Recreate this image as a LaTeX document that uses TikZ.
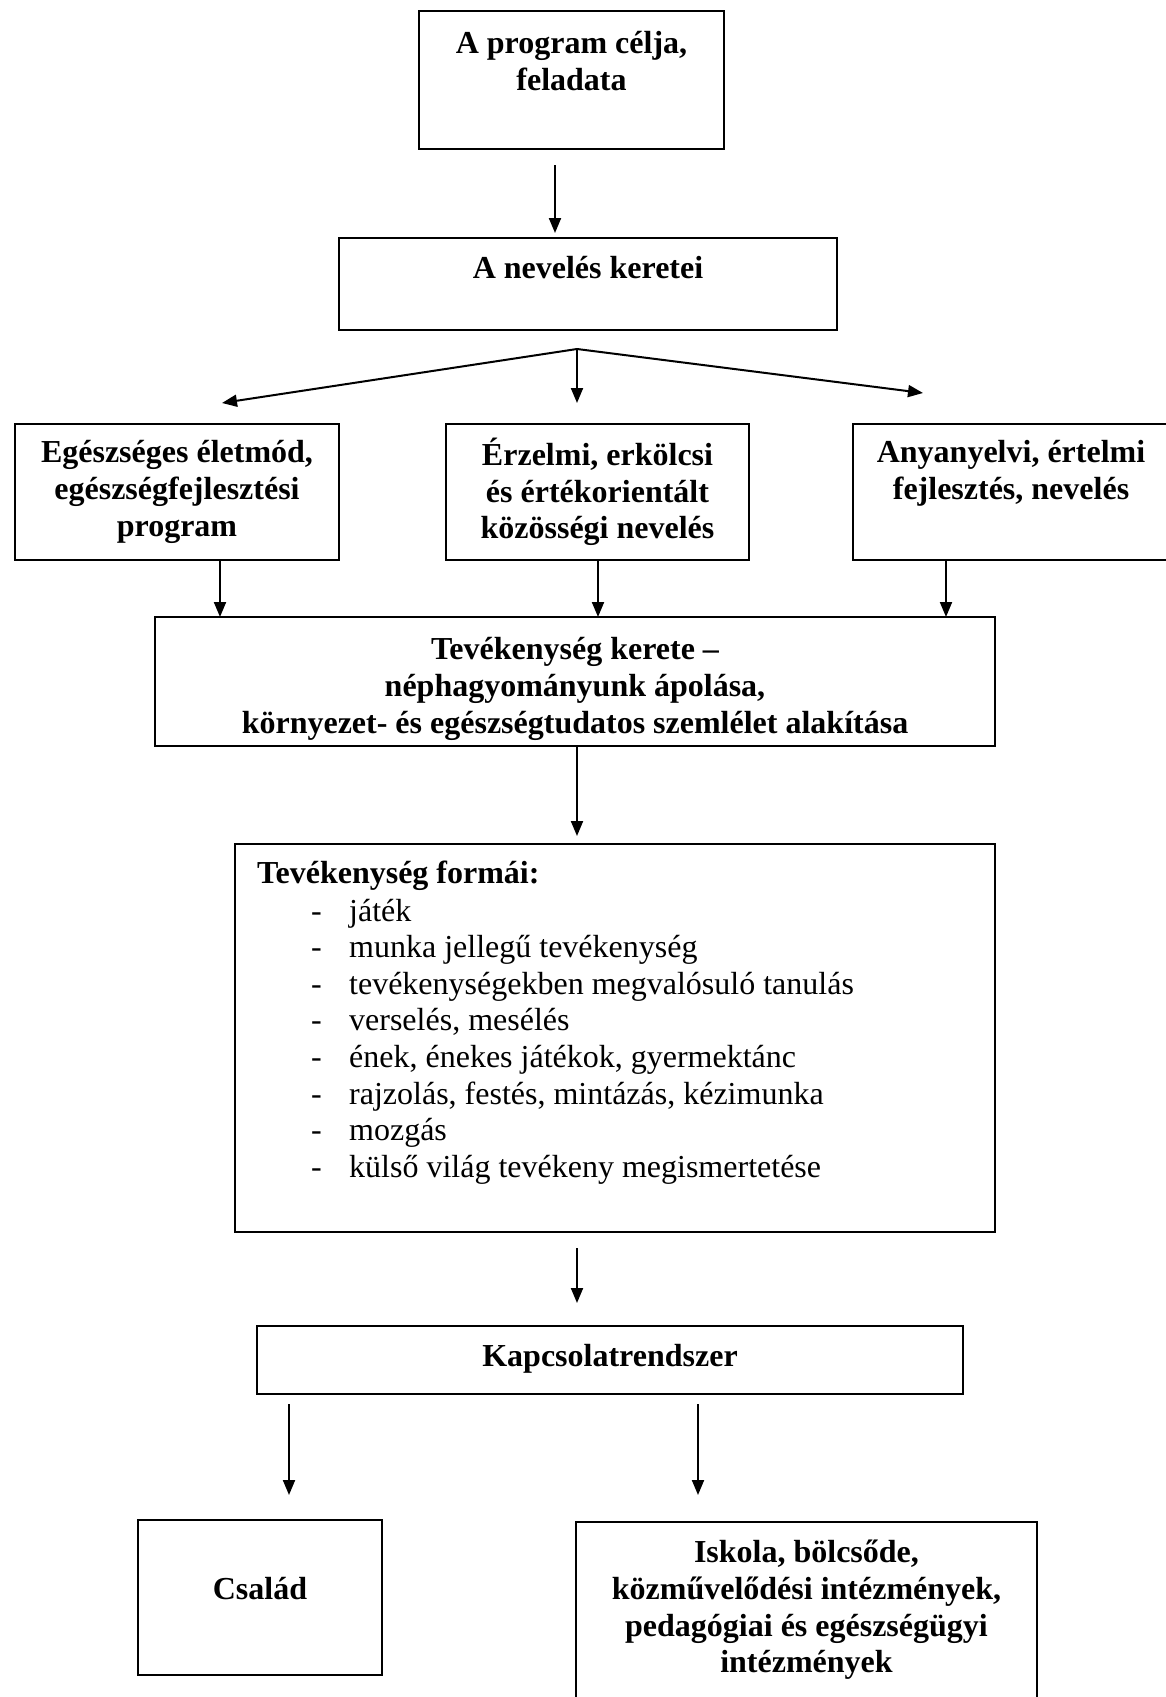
\documentclass[tikz,border=0pt]{standalone}
\usepackage{fontspec}
\setmainfont{Liberation Serif}
\usetikzlibrary{arrows.meta,calc}
\begin{document}
\begin{tikzpicture}[x=1pt,y=-1pt,
  box/.style={draw,line width=2pt,inner sep=0pt,outer sep=0pt},
  lbl/.style={font=\fontsize{32}{36.6}\selectfont\bfseries,align=center,inner sep=0pt},
  arr/.style={line width=2pt,-{Triangle[length=15pt,width=12pt]}}]
\useasboundingbox (0,0) rectangle (1166,1697);
\fill[white] (0,0) rectangle (1166,1697);
% boxes
\node[box,minimum width=305pt,minimum height=138pt] (b1) at (571.5,80) {};
\node[box,minimum width=498pt,minimum height=92pt] (b2) at (588,284) {};
\node[box,minimum width=324pt,minimum height=136pt] (b3) at (177,492) {};
\node[box,minimum width=303pt,minimum height=136pt] (b4) at (597.5,492) {};
\node[box,minimum width=317pt,minimum height=136pt] (b5) at (1011.5,492) {};
\node[box,minimum width=840pt,minimum height=129pt] (b6) at (575,681.5) {};
\node[box,minimum width=760pt,minimum height=388pt] (b7) at (615,1038) {};
\node[box,minimum width=706pt,minimum height=68pt] (b8) at (610,1360) {};
\node[box,minimum width=244pt,minimum height=155pt] (b9) at (260,1597.5) {};
\node[box,minimum width=461pt,minimum height=183pt] (b10) at (806.5,1613.5) {};
% texts
\node[lbl] (t1) at (571.5,61) {A program célja,\\feladata};
\node[lbl] (t2) at (588,268) {A nevelés keretei};
\node[lbl] (t3) at (177,492) {Egészséges életmód,\\egészségfejlesztési\\program};
\node[lbl] (t4) at (597.5,492) {Érzelmi, erkölcsi\\és értékorientált\\közösségi nevelés};
\node[lbl] (t5) at (1011,473) {Anyanyelvi, értelmi\\fejlesztés, nevelés};
\node[lbl] (t6) at (575,689) {Tevékenység kerete –\\néphagyományunk ápolása,\\környezet- és egészségtudatos szemlélet alakítása};
\node[lbl,anchor=west] (t7) at (257,876) {Tevékenység formái:};
\node[inner sep=0pt,anchor=base west,font=\fontsize{32}{36.6}\selectfont] (list) at (311,921) {%
\begin{tabular}[t]{@{}p{38pt}@{}l@{}}
- & játék\\
- & munka jellegű tevékenység\\
- & tevékenységekben megvalósuló tanulás\\
- & verselés, mesélés\\
- & ének, énekes játékok, gyermektánc\\
- & rajzolás, festés, mintázás, kézimunka\\
- & mozgás\\
- & külső világ tevékeny megismertetése
\end{tabular}};
\node[lbl] (t8) at (610,1359) {Kapcsolatrendszer};
\node[lbl] (t9) at (260,1589) {Család};
\node[lbl] (t10) at (806.5,1610) {Iskola, bölcsőde,\\közművelődési intézmények,\\pedagógiai és egészségügyi\\intézmények};
% connectors
\draw[arr] ([xshift=-16.5pt,yshift=-16pt]b1.south) -- ([xshift=-33pt,yshift=5pt]b2.north);
\coordinate (F) at ([xshift=-11pt,yshift=-19pt]b2.south);
\coordinate (L) at (222,403);
\coordinate (C) at (577,403);
\coordinate (R) at (923,393);
\draw[arr] (F) -- (L);
\draw[arr] (F) -- (C);
\draw[arr] (F) -- (R);
\draw[arr] ([xshift=43pt]b3.south) -- ([xshift=-355pt]b6.north);
\draw[arr] ([xshift=0.5pt]b4.south) -- ([xshift=23pt]b6.north);
\draw[arr] ([xshift=-65.5pt]b5.south) -- ([xshift=371pt]b6.north);
\draw[arr] ([xshift=2pt]b6.south) -- ([xshift=-38pt,yshift=8pt]b7.north);
\draw[arr] ([xshift=-38pt,yshift=-16pt]b7.south) -- ([xshift=-33pt,yshift=23pt]b8.north);
\draw[arr] ([xshift=-321pt,yshift=-10pt]b8.south) -- ([xshift=29pt,yshift=25pt]b9.north);
\draw[arr] ([xshift=88pt,yshift=-10pt]b8.south) -- ([xshift=-108.5pt,yshift=27pt]b10.north);
\end{tikzpicture}
\end{document}
